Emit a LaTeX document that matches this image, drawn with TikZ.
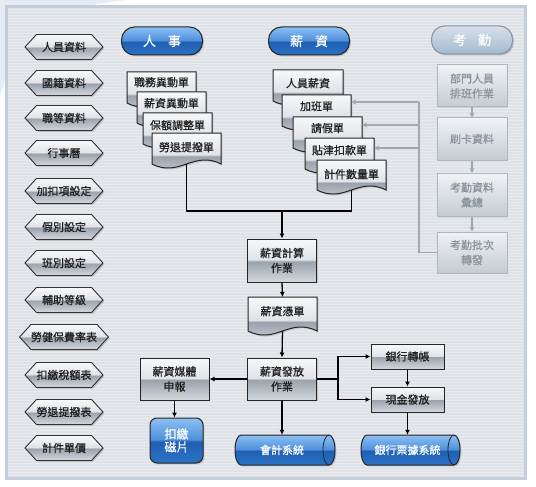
\documentclass[tikz,border=0pt]{standalone}
\usepackage{fontspec}
\newfontfamily\cjk{Noto Sans CJK TC}[FakeBold=0.7]
\usetikzlibrary{arrows.meta,shapes.geometric,shapes.symbols,shadows,calc}

\definecolor{panel}{HTML}{DFE2E6}
\definecolor{stripecol}{HTML}{E8EAED}
\definecolor{frameblue}{HTML}{C2CEDB}
\definecolor{sT}{HTML}{F7F8F9}
\definecolor{sL}{HTML}{E0E3E7}
\definecolor{sM}{HTML}{9AA2AC}
\definecolor{sB}{HTML}{D4D8DD}
\definecolor{bT}{HTML}{8CC0F2}
\definecolor{bL}{HTML}{4F90DC}
\definecolor{bM}{HTML}{1F5FB3}
\definecolor{bB}{HTML}{2C72C6}
\definecolor{gT}{HTML}{F0F2F4}
\definecolor{gB}{HTML}{C5CBD2}
\definecolor{gtext}{HTML}{8A939D}
\definecolor{glinecol}{HTML}{A1A8B0}
\definecolor{pT}{HTML}{D6E0EB}
\definecolor{pB}{HTML}{A5B9CE}
\definecolor{swirl}{HTML}{E4ECF5}

\pgfdeclareverticalshading{silver}{100bp}{color(0bp)=(sB); color(25bp)=(sB); color(49bp)=(sM); color(51bp)=(sL); color(75bp)=(sT); color(100bp)=(sT)}
\pgfdeclareverticalshading{bluegloss}{100bp}{color(0bp)=(bB); color(25bp)=(bB); color(49bp)=(bM); color(51bp)=(bL); color(75bp)=(bT); color(100bp)=(bT)}
\pgfdeclareverticalshading{palegloss}{100bp}{color(0bp)=(pB); color(25bp)=(pB); color(75bp)=(pT); color(100bp)=(pT)}
\pgfdeclareverticalshading{greybox}{100bp}{color(0bp)=(gB); color(25bp)=(gB); color(75bp)=(gT); color(100bp)=(gT)}

\tikzset{
  base/.style={font=\cjk\fontsize{11}{15}\selectfont, text=black!88, align=center, inner sep=0pt},
  shadowed/.style={drop shadow={shadow xshift=1.4pt, shadow yshift=-1.4pt, opacity=0.35}},
  hexbtn/.style={base, signal, signal to=west and east, signal pointer angle=95,
    minimum width=78pt, minimum height=25pt, draw=black!80, line width=0.9pt,
    shade, shading=silver, shadowed},
  procbox/.style={base, rectangle, draw=black!85, line width=1pt, shade, shading=silver, shadowed},
  docstyle/.style={draw=black!85, line width=1pt, shade, shading=silver, shadowed},
  pill/.style={rectangle, rounded corners=13pt, minimum width=81pt, minimum height=28pt,
    draw=black!85, line width=1pt, shade, shading=bluegloss, text=white,
    font=\cjk\fontsize{13}{15}\selectfont, shadowed},
  palepill/.style={pill, draw=pB!80!black, shading=palegloss,
    drop shadow={shadow xshift=1pt, shadow yshift=-1pt, opacity=0.15}},
  gbox/.style={base, text=gtext, rectangle, draw=glinecol!85, line width=1pt, shade, shading=greybox,
    minimum width=70pt, drop shadow={shadow xshift=1pt, shadow yshift=-1pt, opacity=0.15}},
  bluebox/.style={base, text=white, font=\cjk\fontsize{12}{13}\selectfont, rectangle, rounded corners=7pt,
    draw=black!85, line width=1pt, shade, shading=bluegloss, shadowed},
  cylstyle/.style={draw=black!85, line width=1pt, shade, shading=bluegloss, shadowed},
  cylline/.style={draw=black!85, line width=0.8pt},
  conn/.style={draw=black, line width=1.3pt},
  arrow/.style={conn, -{Latex[length=5pt,width=5pt]}},
  gconn/.style={draw=glinecol, line width=1.5pt},
  garrow/.style={gconn, -{Stealth[length=5pt,width=5pt]}},
}

\newcommand\docshape[4]{%
  \path[docstyle] (#1,#2) -- (#1+#3,#2) -- (#1+#3,#2+#4-4)
    .. controls (#1+0.6*#3,#2+#4-18) and (#1+0.4*#3,#2+#4+10) .. (#1,#2+#4-4) -- cycle;}
\newcommand\docnode[7]{%
  \docshape{#2}{#3}{#4}{#5}
  \node[base, anchor=north, minimum width=#4pt, minimum height=#6pt] (#1) at (#2+#4/2,#3) {#7};
  \coordinate (#1b) at (#2+#4/2,#3+#5-4);}
% name cx cy w h text
\newcommand\cylnode[6]{%
  \path[cylstyle] (#2-#4/2+6,#3-#5/2) -- (#2+#4/2-6,#3-#5/2)
     arc[start angle=90,end angle=-90,x radius=6pt,y radius=#5*0.5pt]
     -- (#2-#4/2+6,#3+#5/2)
     arc[start angle=270,end angle=90,x radius=6pt,y radius=#5*0.5pt] -- cycle;
  \draw[cylline] (#2+#4/2-6,#3-#5/2) arc[start angle=90,end angle=270,x radius=6pt,y radius=#5*0.5pt];
  \node[base, text=white, minimum width=#4pt, minimum height=#5pt] (#1) at (#2-3,#3) {#6};}

\begin{document}
\begin{tikzpicture}[x=1pt,y=-1pt]
\useasboundingbox (0,0) rectangle (536,487);
\fill[white] (0,0) rectangle (536,487);
\fill[swirl] (0,0) -- (130,0) .. controls (70,3) and (25,25) .. (0,95) -- cycle;
% panel
\fill[panel] (6,7) rectangle (525,478);
\foreach \yy in {10,13,...,476} \draw[stripecol, line width=1pt] (7,\yy) -- (524,\yy);
\draw[frameblue, line width=3pt] (6,7) rectangle (525,478);

% left buttons
\foreach \t/\yy [count=\i] in {人員資料/47, 國籍資料/83, 職等資料/118, 行事曆/153, 加扣項設定/191, 假別設定/227,
  班別設定/263, 輔助等級/300, 勞健保費率表/337, 扣繳稅額表/375, 勞退提撥表/412, 計件單價/448}
  \node[hexbtn] (h\i) at (64,\yy) {\t};

% headers
\node[pill] (hr) at (162,41) {人\hspace{12pt}事};
\node[pill] (sal) at (309,41) {薪\hspace{12pt}資};
\node[palepill] (att) at (472,40) {考\hspace{12pt}勤};

% HR documents
\docnode{d1}{127}{72}{69}{35}{20}{職務異動單}
\docnode{d2}{137}{92}{69}{35}{22}{薪資異動單}
\docnode{d3}{143}{113}{69}{35}{24}{保額調整單}
\docnode{d4}{152}{133}{69}{35}{28}{勞退提撥單}

% salary documents
\docnode{p1}{273}{70}{70}{35}{26}{人員薪資}
\docnode{p2}{282}{95}{69}{35}{22}{加班單}
\docnode{p3}{293}{117}{69}{35}{22}{請假單}
\docnode{p4}{305}{138}{69}{35}{24}{貼津扣款單}
\docnode{p5}{317}{160}{69}{34}{28}{計件數量單}

% attendance
\node[gbox, minimum height=42pt] (a1) at (472,86) {部門人員\\排班作業};
\node[gbox, minimum height=42pt] (a2) at (472,139) {刷卡資料};
\node[gbox, minimum height=43pt] (a3) at (472,195) {考勤資料\\彙總};
\node[gbox, minimum height=41pt] (a4) at (472,252.5) {考勤批次\\轉發};
\draw[garrow] (a1.south) -- (a2.north);
\draw[garrow] (a2.south) -- (a3.north);
\draw[garrow] (a3.south) -- (a4.north);
\coordinate (g2) at (419,102);
\coordinate (g3) at (419,125);
\coordinate (g4) at (419,148);
\draw[gconn] (a4.west) -| (g2);
\draw[garrow] (g2) -- (g2 -| p2.east);
\draw[garrow] (g3) -- (g3 -| p3.east);
\draw[garrow] (g4) -- (g4 -| p4.east);

% main flow
\node[procbox, minimum width=69pt, minimum height=43pt] (calc) at (282,260.5) {薪資計算\\作業};
\docnode{slip}{248}{297}{69}{38}{28}{薪資憑單}
\node[procbox, minimum width=69pt, minimum height=42pt] (pay) at (282,379) {薪資發放\\作業};
\node[procbox, minimum width=69pt, minimum height=42pt] (media) at (174.5,379) {薪資媒體\\申報};
\node[bluebox, minimum width=53pt, minimum height=45pt] (disk) at (176.5,440.5) {扣繳\\磁片};
\cylnode{acct}{285}{450}{100}{30}{會計系統}
\node[procbox, minimum width=73pt, minimum height=25pt] (bank) at (407.5,356.5) {銀行轉帳};
\node[procbox, minimum width=73pt, minimum height=25pt] (cash) at (407.5,399.5) {現金發放};
\cylnode{bills}{410.5}{450}{99}{30}{銀行票據系統}

\coordinate (join) at (282,211);
\draw[conn] (d4b) |- (join) -| (p5b);
\draw[arrow] (join) -- (calc.north);
\draw[arrow] (calc.south) -- (slip.north);
\draw[arrow] (slipb) -- (pay.north);
\draw[arrow] (pay.west) -- (media.east);
\draw[arrow] (media.south) -- (media.south |- disk.north);
\draw[arrow] (pay.south) -- (pay.south |- acct.north);
\coordinate (split) at (338,379);
\draw[conn] (pay.east) -- (split);
\draw[arrow] (split) |- (bank.west);
\draw[arrow] (split) |- (cash.west);
\draw[arrow] (bank.south) -- (cash.north);
\draw[arrow] (cash.south) -- (cash.south |- bills.north);
\end{tikzpicture}
\end{document}
